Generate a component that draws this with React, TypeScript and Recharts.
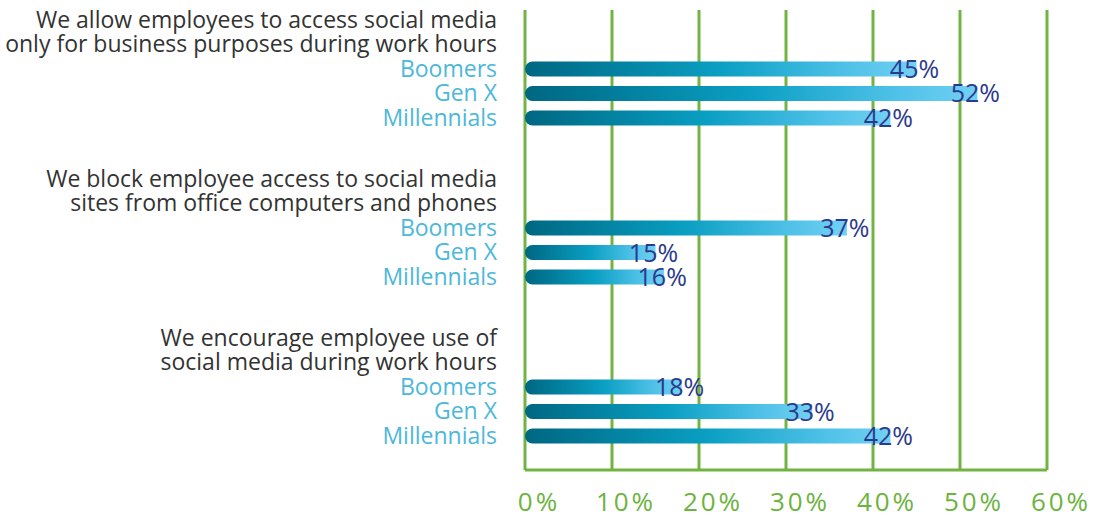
import { BarChart, Bar, XAxis, YAxis, CartesianGrid, LabelList } from "recharts"

const generations = ["Boomers", "Gen X", "Millennials"]
const questions = [
  ["We allow employees to access social media", "only for business purposes during work hours"],
  ["We block employee access to social media", "sites from office computers and phones"],
  ["We encourage employee use of", "social media during work hours"],
]
const boomers = [45, 37, 18]
const genX = [52, 15, 33]
const millennials = [42, 16, 42]
const xTicks = [0, 10, 20, 30, 40, 50, 60]

// each question block takes 6.5 rows: two title lines, three bars, a gap
const GROUP_STEP = 6.5
const seriesValues = [boomers, genX, millennials]

const data = questions.flatMap((_, q) =>
  generations.map((g, i) => ({ name: g, pos: q * GROUP_STEP + i, value: seriesValues[i][q] }))
)

const rowLabels = new Map<number, { text: string; title: boolean }>()
questions.forEach((lines, q) => {
  lines.forEach((line, j) => rowLabels.set(q * GROUP_STEP - lines.length + j, { text: line, title: true }))
  generations.forEach((g, i) => rowLabels.set(q * GROUP_STEP + i, { text: g, title: false }))
})
const yTicks = Array.from(rowLabels.keys())

const FONT = "'Open Sans', sans-serif"

function RowTick({ x, y, payload }: any) {
  const row = rowLabels.get(payload.value)
  if (!row) return null
  return (
    <text
      x={x}
      y={y}
      dy="0.35em"
      textAnchor="end"
      fill={row.title ? "#333333" : "#4cb8d9"}
      fontSize={23}
      fontFamily={FONT}
    >
      {row.text}
    </text>
  )
}

function PctTick({ x, y, payload }: any) {
  return (
    <text
      x={x + 14}
      y={y}
      dy="1.25em"
      textAnchor="middle"
      fill="#6db33f"
      fontSize={26}
      letterSpacing={3}
      fontFamily={FONT}
    >
      {payload.value}%
    </text>
  )
}

function EndLabel({ x, y, width, height, value }: any) {
  return (
    <text
      x={x + width - 2}
      y={y + height / 2}
      dy="0.36em"
      textAnchor="middle"
      fill="#2b3a8c"
      fontSize={25}
      fontFamily={FONT}
    >
      {value}%
    </text>
  )
}

export default function App() {
  return (
    <div style={{ position: "absolute", left: 0, top: 0, background: "#fff" }}>
      <BarChart
        width={1098}
        height={515}
        data={data}
        layout="vertical"
        margin={{ top: 10, right: 51, bottom: 0, left: 0 }}
      >
        <defs>
          <linearGradient id="barGrad" x1="0" y1="0" x2="1" y2="0">
            <stop offset="0%" stopColor="#006782" />
            <stop offset="10%" stopColor="#00728f" />
            <stop offset="50%" stopColor="#0a9fc3" />
            <stop offset="80%" stopColor="#4bbfe6" />
            <stop offset="100%" stopColor="#72d0f4" />
          </linearGradient>
        </defs>
        <CartesianGrid horizontal={false} stroke="#72b443" strokeWidth={3} />
        <XAxis
          type="number"
          domain={[0, 60]}
          ticks={xTicks}
          height={45}
          axisLine={{ stroke: "#72b443", strokeWidth: 3 }}
          tickLine={false}
          tick={<PctTick />}
        />
        <YAxis
          type="number"
          dataKey="pos"
          domain={[-2.4, 16.4]}
          ticks={yTicks}
          width={525}
          axisLine={false}
          tickLine={false}
          tickSize={0}
          tickMargin={28}
          tick={<RowTick />}
          interval={0}
        />
        <Bar dataKey="value" barSize={15} fill="url(#barGrad)" radius={[8, 0, 0, 8]} isAnimationActive={false}>
          <LabelList dataKey="value" content={<EndLabel />} />
        </Bar>
      </BarChart>
    </div>
  )
}
